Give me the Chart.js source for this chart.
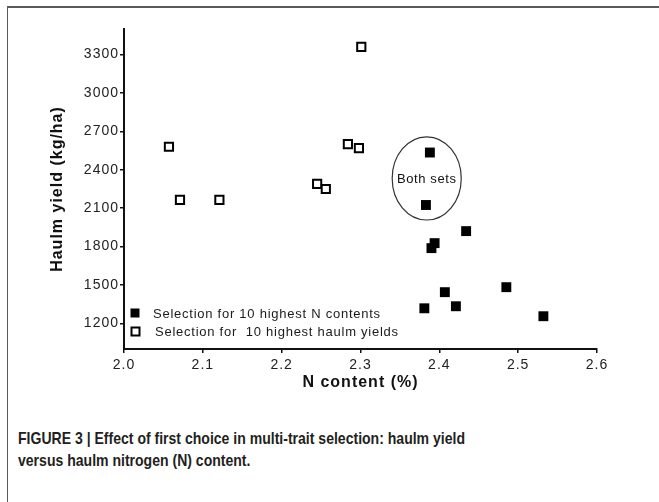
<!DOCTYPE html>
<html lang="en">
<head>
    <meta charset="UTF-8">
    <title>Haulm yield versus N content</title>
    <script src="https://cdn.jsdelivr.net/npm/chart.js"></script>
    <style>
        body {
            margin: 0;
            background: #fff;
            font-family: "Liberation Sans", Arial, sans-serif;
        }
        #frame {
            position: absolute;
            left: 7px;
            top: 6px;
            width: 700px;
            height: 600px;
            border-top: 2px solid #5a5a5a;
            border-left: 1.5px solid #5a5a5a;
        }
        #chartBox {
            position: absolute;
            left: 0;
            top: 0;
        }
        #caption {
            position: absolute;
            left: 18px;
            top: 428px;
            font-weight: bold;
            font-size: 17px;
            line-height: 22px;
            color: #231f20;
            white-space: nowrap;
            transform-origin: 0 0;
        }
    </style>
</head>
<body>

<div id="frame"></div>
<div id="chartBox"><canvas id="scatter" width="659" height="400"></canvas></div>
<div id="caption">
    <div id="cap1">FIGURE 3 | Effect of first choice in multi-trait selection: haulm yield</div>
    <div>versus haulm nitrogen (N) content.</div>
</div>

<script>
    // values
    const nContentX = [2.388, 2.383, 2.434, 2.390, 2.394, 2.381, 2.407, 2.421, 2.485, 2.532];
    const nContentY = [2535, 2125, 1921, 1788, 1827, 1318, 1444, 1334, 1483, 1256];
    const yieldX = [2.057, 2.071, 2.121, 2.245, 2.256, 2.284, 2.298, 2.301];
    const yieldY = [2580, 2165, 2165, 2290, 2250, 2600, 2570, 3360];
    const seriesNames = ['Selection for 10 highest N contents', 'Selection for  10 highest haulm yields'];
    const xTicks = [2.0, 2.1, 2.2, 2.3, 2.4, 2.5, 2.6];
    const yTicks = [1200, 1500, 1800, 2100, 2400, 2700, 3000, 3300];
    // circle round the two points picked by both selections
    const bothCentre = [2.384, 2333];
    const bothRadius = [0.0438, 325];
    const bothLabel = 'Both sets';

    const toPoints = (xs, ys) => xs.map((x, i) => ({ x: x, y: ys[i] }));

    // ellipse, "Both sets" text and the legend inside the plot
    const extras = {
        id: 'extras',
        beforeDraw(chart) {
            chart.ctx.letterSpacing = '1px';
        },
        afterDatasetsDraw(chart) {
            const ctx = chart.ctx;
            const xs = chart.scales.x, ys = chart.scales.y;
            const cx = xs.getPixelForValue(bothCentre[0]);
            const cy = ys.getPixelForValue(bothCentre[1]);
            const rx = xs.getPixelForValue(bothCentre[0] + bothRadius[0]) - cx;
            const ry = cy - ys.getPixelForValue(bothCentre[1] + bothRadius[1]);
            ctx.save();
            ctx.strokeStyle = '#333';
            ctx.lineWidth = 1.2;
            ctx.beginPath();
            ctx.ellipse(cx, cy, rx, ry, 0, 0, Math.PI * 2);
            ctx.stroke();
            ctx.fillStyle = '#111';
            ctx.letterSpacing = '0.6px';
            ctx.font = '13px "Liberation Sans", Arial, sans-serif';
            ctx.textAlign = 'center';
            ctx.textBaseline = 'middle';
            ctx.fillText(bothLabel, cx, cy + 1);

            // legend
            const area = chart.chartArea;
            ctx.textAlign = 'left';
            ctx.letterSpacing = '0.75px';
            ctx.font = '13px "Liberation Sans", Arial, sans-serif';
            const rows = [chart.data.datasets[1], chart.data.datasets[0]];
            rows.forEach((ds, i) => {
                const my = area.bottom - 36 + i * 18;
                const mx = area.left + 11;
                if (ds.backgroundColor === '#000') {
                    ctx.fillStyle = '#000';
                    ctx.fillRect(mx - 4.5, my - 4.5, 9, 9);
                } else {
                    ctx.strokeStyle = '#000';
                    ctx.lineWidth = 2;
                    ctx.strokeRect(mx - 3.5, my - 3.5, 8, 8);
                }
                ctx.fillStyle = '#1a1a1a';
                ctx.fillText(ds.label, area.left + 29 + i * 2, my + 1);
            });
            ctx.restore();
        }
    };

    const ctx = document.getElementById('scatter').getContext('2d');
    new Chart(ctx, {
        type: 'scatter',
        data: {
            datasets: [{
                label: seriesNames[1],
                data: toPoints(yieldX, yieldY),
                pointStyle: 'rect',
                pointRadius: 5.8,
                backgroundColor: '#fff',
                borderColor: '#000',
                borderWidth: 2
            }, {
                label: seriesNames[0],
                data: toPoints(nContentX, nContentY),
                pointStyle: 'rect',
                pointRadius: 7,
                backgroundColor: '#000',
                borderColor: '#000',
                borderWidth: 0
            }]
        },
        options: {
            responsive: false,
            animation: false,
            events: [],
            layout: {
                padding: { left: 0, top: 29, right: 62, bottom: 0 }
            },
            plugins: {
                legend: { display: false },
                tooltip: { enabled: false }
            },
            scales: {
                x: {
                    type: 'linear',
                    min: 2.0,
                    max: 2.6,
                    afterBuildTicks: scale => {
                        scale.ticks = xTicks.map(v => ({ value: v }));
                    },
                    afterFit: scale => { scale.height = 51; },
                    grid: {
                        drawOnChartArea: false,
                        drawTicks: true,
                        tickLength: 4,
                        color: '#111',
                        lineWidth: 1.5
                    },
                    border: { color: '#111', width: 2 },
                    ticks: {
                        padding: 4,
                        color: '#222',
                        font: { family: '"Liberation Sans", Arial, sans-serif', size: 14 },
                        callback: v => v.toFixed(1)
                    },
                    title: {
                        display: true,
                        text: 'N content (%)',
                        color: '#111',
                        padding: { top: 0, bottom: 7.4 },
                        font: { family: '"Liberation Sans", Arial, sans-serif', size: 16, weight: 'bold' }
                    }
                },
                y: {
                    type: 'linear',
                    min: 1000,
                    max: 3500,
                    afterBuildTicks: scale => {
                        scale.ticks = yTicks.map(v => ({ value: v }));
                    },
                    afterFit: scale => { scale.width = 124; },
                    grid: {
                        drawOnChartArea: false,
                        drawTicks: true,
                        tickLength: 4,
                        color: '#111',
                        lineWidth: 1.5
                    },
                    border: { color: '#111', width: 2 },
                    ticks: {
                        padding: 1,
                        color: '#222',
                        font: { family: '"Liberation Sans", Arial, sans-serif', size: 14 },
                        callback: v => String(v)
                    },
                    title: {
                        display: true,
                        text: 'Haulm yield (kg/ha)',
                        color: '#111',
                        padding: { top: 48.4, bottom: 0 },
                        font: { family: '"Liberation Sans", Arial, sans-serif', size: 16, weight: 'bold' }
                    }
                }
            }
        },
        plugins: [extras]
    });

    // squeeze the caption to the condensed width of the original
    const cap = document.getElementById('caption');
    const line1 = document.getElementById('cap1');
    line1.style.display = 'inline-block';
    const realW = line1.getBoundingClientRect().width;
    cap.style.transform = 'scaleX(' + (447 / realW) + ')';
</script>

</body>
</html>
